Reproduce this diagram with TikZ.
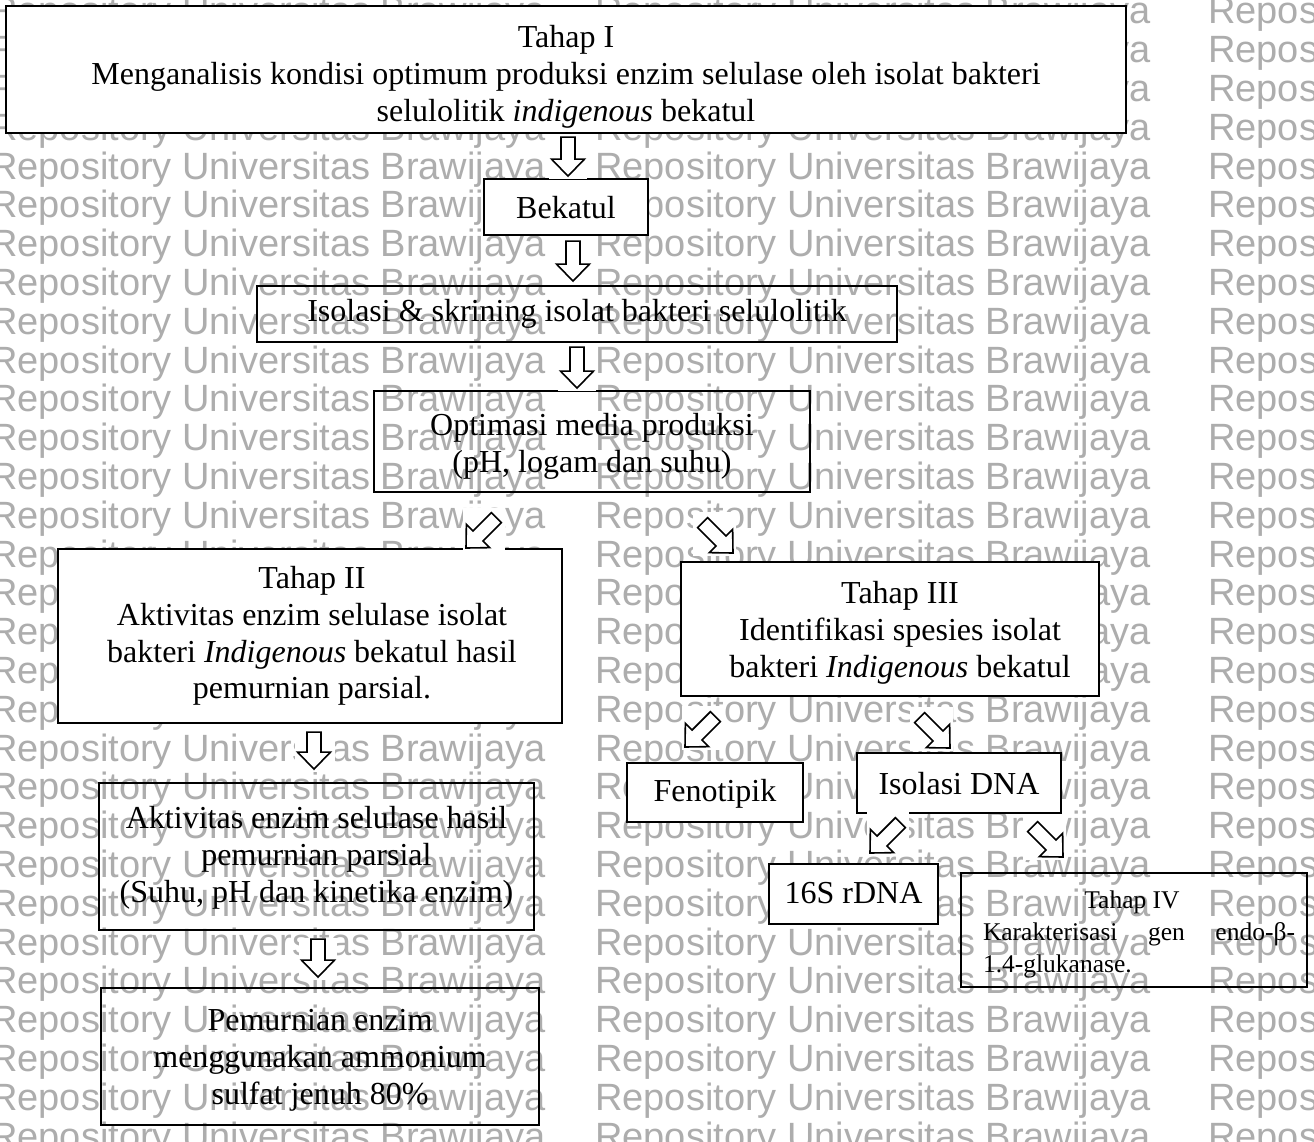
\documentclass[tikz,border=0pt]{standalone}
\usepackage{fontspec}
\setmainfont{Liberation Serif}
\newfontfamily\wmfont{Liberation Sans}
\begin{document}
\begin{tikzpicture}[x=1pt,y=-1pt,
  box/.style={draw, line width=1.8pt, inner sep=0pt},
  wbox/.style={box, fill=white},
  txt/.style={inner sep=0pt, align=center, font=\fontsize{32}{36.8}\selectfont},
  wm/.style={anchor=west, inner sep=0pt, text=black!32,
    font=\wmfont\fontsize{38}{38}\selectfont},
  arr/.style={draw, line width=1.6pt, fill=white, line join=miter},
  knock/.style={fill=white},
  pics/barr/.style={code={
    \draw[arr] (0,0) -- (-17,16.5) -- (-17,7) -- (-#1,7) -- (-#1,-7)
      -- (-17,-7) -- (-17,-16.5) -- cycle;}}
]
\useasboundingbox (0,0) rectangle (1314,1141);
\fill[white] (0,0) rectangle (1314,1141);

% watermark
\begin{scope}
\clip (0,0) rectangle (1314,1141);
\foreach \k in {0,...,29}{
  \node[wm] (wmA\k) at (-10, 14+38.8*\k) {Repository Universitas Brawijaya};
  \node[wm] (wmB\k) at (595, 14+38.8*\k) {Repository Universitas Brawijaya};
  \node[wm] (wmC\k) at (1208, 14+38.8*\k) {Repository Universitas Brawijaya};
}
\end{scope}

% boxes
\node[wbox, minimum width=1120, minimum height=127] (t1) at (566,69.5) {};
\node[wbox, minimum width=164, minimum height=56] (bk) at (566,207) {};
\node[box, minimum width=640, minimum height=56] (isk) at (577,314) {};
\node[box, minimum width=436, minimum height=101] (opt) at (592,441.5) {};
\node[wbox, minimum width=504, minimum height=174] (t2) at (310,636) {};
\node[box, minimum width=435, minimum height=147] (akt) at (316.5,856.5) {};
\node[box, minimum width=438, minimum height=137] (pem) at (320,1056.5) {};
\node[wbox, minimum width=418, minimum height=134] (t3) at (890,629) {};
\node[wbox, minimum width=176, minimum height=59] (fen) at (715,792.5) {};
\node[wbox, minimum width=204, minimum height=60] (dna) at (959,783) {};
\node[wbox, minimum width=169, minimum height=60] (s16) at (853.5,894) {};
\node[box, minimum width=346, minimum height=114] (t4) at (1134,930) {};

% texts
\node[txt] (t1x) at ([shift={(0,7)}]t1.center)
  {Tahap I\\Menganalisis kondisi optimum produksi enzim selulase oleh isolat bakteri\\selulolitik \textit{indigenous} bekatul};
\node[txt] (bkx) at ([shift={(0,1)}]bk.center) {Bekatul};
\node[txt] (iskx) at ([shift={(0,0)}]isk.center) {Isolasi \& skrining isolat bakteri selulolitik};
\node[txt] (optx) at ([shift={(0,5)}]opt.center) {Optimasi media produksi\\(pH, logam dan suhu)};
\node[txt] (t2x) at ([shift={(2,0)}]t2.center)
  {Tahap II\\Aktivitas enzim selulase isolat\\bakteri \textit{Indigenous} bekatul hasil\\pemurnian parsial.};
\node[txt] (aktx) at ([shift={(0,1)}]akt.center)
  {Aktivitas enzim selulase hasil\\pemurnian parsial\\(Suhu, pH dan kinetika enzim)};
\node[txt] (pemx) at ([shift={(0,4)}]pem.center)
  {Pemurnian enzim\\menggunakan ammonium\\sulfat jenuh 80\%};
\node[txt] (t3x) at ([shift={(10,4)}]t3.center)
  {Tahap III\\Identifikasi spesies isolat\\bakteri \textit{Indigenous} bekatul};
\node[txt] (fenx) at ([shift={(0,1)}]fen.center) {Fenotipik};
\node[txt] (dnax) at ([shift={(0,1)}]dna.center) {Isolasi DNA};
\node[txt] (s16x) at ([shift={(0,-1)}]s16.center) {16S rDNA};
\node[txt, font=\fontsize{25.5}{32}\selectfont] (t4x) at ([shift={(5,4)}]t4.center)
  {\makebox[312pt]{Tahap IV\hspace*{14pt}}\\\makebox[312pt][s]{Karakterisasi\hfill gen\hfill endo-β-}\\\makebox[312pt][l]{1.4-glukanase.}};

% white knock-outs behind arrows
\fill[knock] (549,136) rectangle (587,179);
\fill[knock] (554,240) rectangle (592,284);
\fill[knock] (558,346) rectangle (596,391);
\fill[knock] (295,731) rectangle (335,772);
\fill[knock] (299,938) rectangle (337,980);
\fill[knock] (463,508) rectangle (505,551);
\fill[knock] (693,512) rectangle (736,556);
\fill[knock] (682,706) rectangle (724,750);
\fill[knock] (910,707) rectangle (953,751);
\fill[knock] (867,812) rectangle (909,856);
\fill[knock] (1023,817) rectangle (1066,860);

% block arrows
\pic[rotate=-90] at ([shift={(2,-2)}]bk.north) {barr=39};
\pic[rotate=-90] at ([shift={(-4,-4)}]isk.north) {barr=40};
\pic[rotate=-90] at ([shift={(-15,-2)}]opt.north) {barr=41};
\pic[rotate=-90] at ([shift={(4,-13)}]akt.north -| t2.center) {barr=37};
\pic[rotate=-90] at ([shift={(-2,-10)}]pem.north) {barr=38};
\pic[rotate=-135] at (466,548) {barr=43};
\pic[rotate=-45] at (733,553) {barr=43};
\pic[rotate=-135] at (685,747) {barr=43};
\pic[rotate=-45] at (950,748) {barr=43};
\pic[rotate=-135] at (870,853) {barr=43};
\pic[rotate=-45] at (1063,857) {barr=43};
\end{tikzpicture}
\end{document}
